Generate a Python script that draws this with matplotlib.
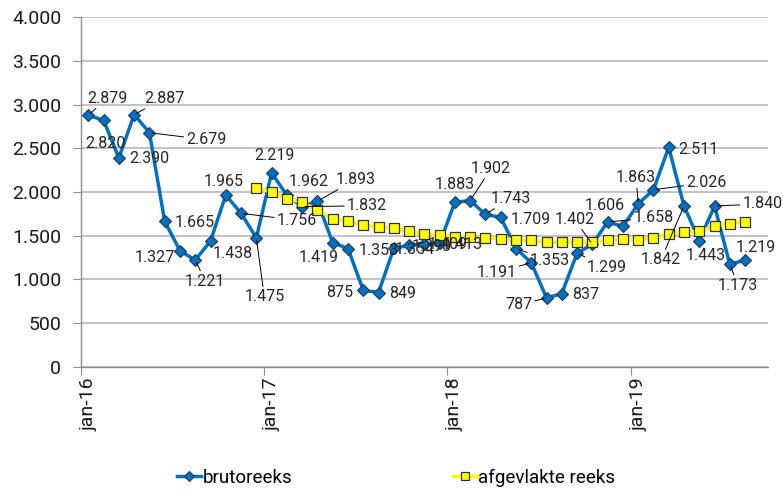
import numpy as np
import matplotlib
matplotlib.use('Agg')
import matplotlib.pyplot as plt

# maandlabels jan-16 .. aug-19 (laatste categorie sep-19 is leeg)
maanden = ['jan', 'feb', 'mrt', 'apr', 'mei', 'jun', 'jul', 'aug', 'sep', 'okt', 'nov', 'dec']
periodes = [f'{m}-{j}' for j in ('16', '17', '18', '19') for m in maanden][:45]

bruto = [2879, 2820, 2390, 2887, 2679, 1665, 1327, 1221, 1438, 1965, 1756, 1475,
         2219, 1962, 1832, 1893, 1419, 1353, 875, 849, 1354, 1390, 1409, 1413,
         1883, 1902, 1743, 1709, 1353, 1191, 787, 837, 1299, 1402, 1658, 1606,
         1863, 2026, 2511, 1842, 1443, 1840, 1173, 1219]

afgevlakt = [None] * 11 + [
    2050, 2000, 1925, 1880, 1795, 1695, 1665, 1620, 1600, 1590, 1550, 1520,
    1510, 1485, 1485, 1475, 1465, 1455, 1445, 1425, 1425, 1425, 1425, 1450,
    1460, 1456, 1478, 1521, 1540, 1551, 1608, 1639, 1662]

# plaats van de datalabels: verschuiving in pixels (dx, dy omlaag) en wel/geen verbindingslijn
label_pos = [
    (19, -17, 1), (2, 23, 0), (30, 1, 0), (30, -16, 1), (57, 7, 1), (30, 1, 0),
    (-25, 7, 0), (10, 21, 1), (22, 12, 0), (-2, -14, 0), (56, 7, 1), (8, 59, 1),
    (3, -17, 0), (22, -14, 0), (65, -1, 1), (38, -22, 1), (-14, 15, 0), (31, 2, 0),
    (-24, 2, 0), (24, 1, 0), (21, 1, 0), (23, 1, 0), (23, 1, 0), (23, 1, 0),
    (0, -18, 0), (21, -32, 1), (25, -16, 1), (30, 2, 0), (34, 12, 1), (-35, 10, 1),
    (-28, 7, 1), (24, 1, 0), (30, 14, 1), (-18, -25, 1), (46, -4, 1), (-18, -21, 0),
    (-2, -26, 1), (53, -7, 1), (30, 2, 0), (-23, 54, 1), (6, 15, 0), (48, -2, 1),
    (8, 21, 1), (11, -13, 0),
]

plt.rcParams['font.family'] = ['Roboto', 'DejaVu Sans']


def nl(v):
    return f'{v:,.0f}'.replace(',', '.')


fig = plt.figure(figsize=(7.83, 4.90), dpi=100)
ax = fig.add_axes([80.7 / 783, 1 - 366.7 / 490, (768 - 80.7) / 783, (366.7 - 17.3) / 490])

x = np.arange(len(bruto))
ax.plot(x, bruto, color='#0070C0', lw=2.5, marker='D', ms=6.5, mfc='#0070C0',
        mec='#1F3B5E', mew=0.8, label='brutoreeks', zorder=3)
ax.plot(np.arange(len(afgevlakt)), np.array(afgevlakt, dtype=float), color='#FFFF00', lw=2.5,
        marker='s', ms=7.2, mfc='#FFFF00', mec='#333333', mew=0.9,
        label='afgevlakte reeks', zorder=4)

for i, v in enumerate(bruto):
    dx, dy, leader = label_pos[i]
    ap = dict(arrowstyle='-', color='black', lw=0.7, shrinkA=0, shrinkB=2) if leader else None
    ax.annotate(nl(v), xy=(i, v), xytext=(dx, -dy), textcoords='offset pixels',
                ha='center', va='center', fontsize=11.5, color='#262626',
                arrowprops=ap, zorder=6)

ax.set_xlim(-0.5, 44.5)
ax.set_ylim(0, 4000)
ax.set_yticks(range(0, 4001, 500))
ax.set_yticklabels([nl(v) for v in range(0, 4001, 500)])
ax.yaxis.grid(True, color='#B3B3B3', lw=1.1)
ax.set_axisbelow(True)

ax.set_xticks([-0.5, 11.5, 23.5, 35.5])
ax.set_xticklabels([])
ax.set_xticks([0, 12, 24, 36], minor=True)
ax.set_xticklabels([periodes[k] for k in (0, 12, 24, 36)], minor=True, rotation=90)
ax.tick_params(axis='x', which='major', length=6, color='#8C8C8C', direction='out')
ax.tick_params(axis='x', which='minor', length=0, pad=8, labelsize=14, labelcolor='#1A1A1A')
ax.tick_params(axis='y', length=6, color='#8C8C8C', pad=8, labelsize=14, labelcolor='#1A1A1A')

for s in ('top', 'right'):
    ax.spines[s].set_visible(False)
for s in ('left', 'bottom'):
    ax.spines[s].set_color('#8C8C8C')
    ax.spines[s].set_linewidth(1.0)

fig.legend(loc='center', bbox_to_anchor=(0.506, 0.0245), ncol=2, frameon=False,
           columnspacing=8.6, handlelength=1.3, handletextpad=0.05, fontsize=13.5,
           markerscale=0.8)

fig.savefig('out.png', dpi=100)
